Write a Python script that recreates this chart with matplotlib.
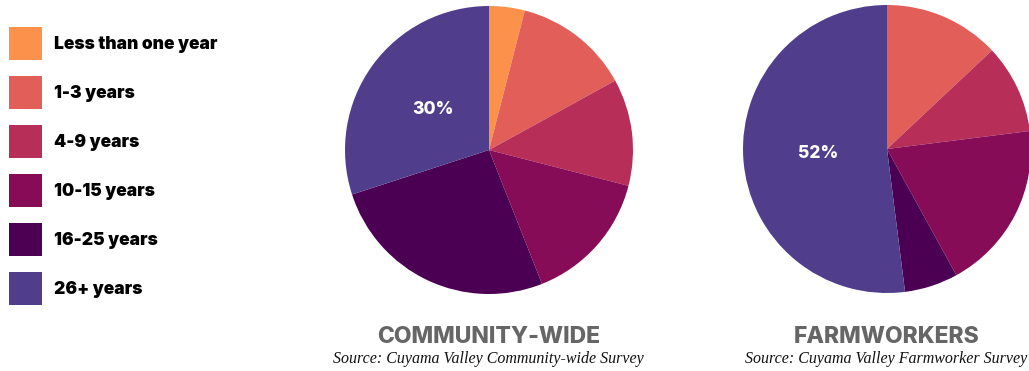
import matplotlib
matplotlib.use("Agg")
import matplotlib.pyplot as plt

# years lived in the valley
categories = ["Less than one year", "1-3 years", "4-9 years",
              "10-15 years", "16-25 years", "26+ years"]
community = [4, 13, 12, 15, 26, 30]
farmworkers = [0, 13, 10, 19, 6, 52]
colors = ["#FC914B", "#E25E58", "#B72E58", "#870C58", "#4B0053", "#503E8C"]

titles = ["COMMUNITY-WIDE", "FARMWORKERS"]
sources = ["Source: Cuyama Valley Community-wide Survey",
           "Source: Cuyama Valley Farmworker Survey"]

W, H = 1029, 371
R = 144  # pie radius in px
centers = [(489, 150), (887, 149)]
HEAVY = "Inter"

fig = plt.figure(figsize=(W / 100, H / 100), dpi=100)


def pct_label(p):
    return f"{p:.0f}%" if p >= 30 else ""


axes = []
for (cx, cy), vals, title, src in zip(centers, [community, farmworkers], titles, sources):
    ax = fig.add_axes([(cx - R) / W, (H - cy - R) / H, 2 * R / W, 2 * R / H])
    wedges, _, autotexts = ax.pie(vals, colors=colors, startangle=90, counterclock=False,
                                  radius=1, autopct=pct_label, pctdistance=0.48,
                                  wedgeprops=dict(linewidth=0))
    for t in autotexts:
        t.set_color("white")
        t.set_fontfamily(HEAVY)
        t.set_fontweight(800)
        t.set_fontsize(12.5)
    ax.set_xlim(-1, 1)
    ax.set_ylim(-1, 1)
    ax.set_aspect("equal")
    ax.axis("off")
    axes.append((ax, wedges))

    fig.text(cx / W, 1 - 337 / H, title, ha="center", va="center",
             fontfamily=HEAVY, fontweight=800, fontsize=16.5, color="#666666")
    fig.text((cx - 1) / W, 1 - 363 / H, src, ha="center", va="baseline",
             fontfamily="Liberation Serif", style="italic", fontsize=11.5, color="#111111")

# legend built from the community pie wedges
fs = 12.5
fpx = fs * 100 / 72
box = 33 / fpx                       # square side in font units
hh = (box - 0.245) / 0.65            # legend trims 0.35*(hh-0.7) off the handle height
leg = fig.legend(axes[0][1], categories, loc="upper left",
                 bbox_to_anchor=(9 / W, 1 - 27 / H), frameon=False,
                 borderpad=0, borderaxespad=0,
                 handlelength=box, handleheight=hh,
                 handletextpad=12 / fpx, labelspacing=16 / fpx,
                 prop=dict(family=HEAVY, weight=900, size=fs))

fig.savefig("out.png", dpi=100)
